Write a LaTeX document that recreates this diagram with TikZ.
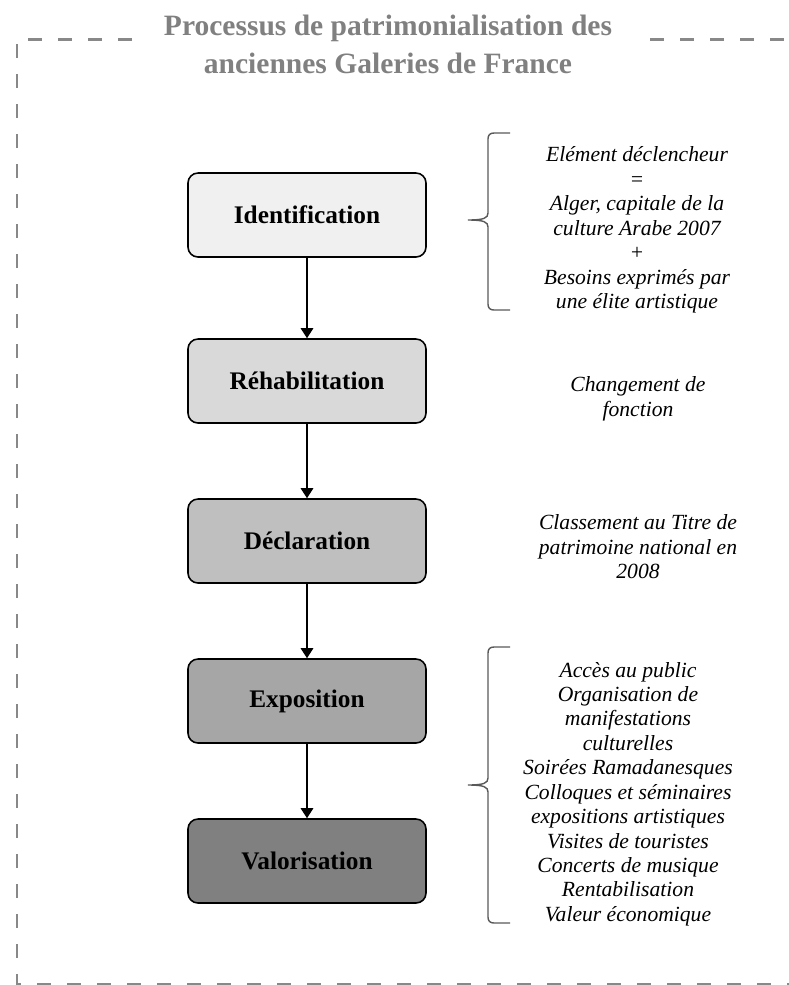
\documentclass[tikz,border=0pt]{standalone}
\usepackage{fontspec}
\setmainfont{Liberation Serif}
\usetikzlibrary{arrows.meta}
\definecolor{framegray}{RGB}{136,136,136}
\definecolor{titlegray}{RGB}{128,128,128}

\begin{document}
\begin{tikzpicture}[x=0.2mm,y=-0.2mm,
  stepbox/.style={draw=black, line width=0.9pt, rounded corners=2mm, minimum width=47.6mm, minimum height=16.8mm, font=\fontsize{14.4}{17}\selectfont\bfseries},
  note/.style={align=center, font=\fontsize{12.3}{13.9}\selectfont\itshape},
  arr/.style={-{Triangle[length=2mm,width=2.5mm]}, line width=0.75pt},
  brc/.style={draw=black!65, line width=0.8pt},
  frame/.style={framegray, line width=1.7pt, dash pattern=on 2.8mm off 3.2mm}]
\useasboundingbox (0,0) rectangle (789,985);
\draw[frame] (132,39) -- (17,39) -- (17,984) -- (800,984);
\draw[frame] (650,39) -- (800,39);
\node[align=center, text=titlegray, font=\fontsize{16.8}{21.6}\selectfont\bfseries] (title) at (388,44) {Processus de patrimonialisation des\\anciennes Galeries de France};
\node[stepbox, fill=black!6] (idn) at (307,215) {Identification};
\node[stepbox, fill=black!15] (reh) at (307,381) {Réhabilitation};
\node[stepbox, fill=black!25] (dec) at (307,541) {Déclaration};
\node[stepbox, fill=black!35] (expo) at (307,701) {Exposition};
\node[stepbox, fill=black!50] (val) at (307,861) {Valorisation};
\draw[arr] (idn) -- (reh);
\draw[arr] (reh) -- (dec);
\draw[arr] (dec) -- (expo);
\draw[arr] (expo) -- (val);
\draw[brc] (510,133) -- (494,133) .. controls (490,133) and (488,135) .. (488,139) -- (488,213) .. controls (488,218) and (484,220) .. (468,220) .. controls (484,220) and (488,222) .. (488,227) -- (488,304) .. controls (488,308) and (490,310) .. (494,310) -- (510,310);
\draw[brc] (510,647) -- (494,647) .. controls (490,647) and (488,649) .. (488,653) -- (488,778) .. controls (488,783) and (484,785) .. (468,785) .. controls (484,785) and (488,787) .. (488,792) -- (488,917) .. controls (488,921) and (490,923) .. (494,923) -- (510,923);
\node[note] (trig) at (637,230) {Elément déclencheur\\=\\Alger, capitale de la\\culture Arabe 2007\\+\\Besoins exprimés par\\une élite artistique};
\node[note] (func) at (638,399) {Changement de\\fonction};
\node[note] (clas) at (638,547) {Classement au Titre de\\patrimoine national en\\2008};
\node[note] (acts) at (628,794) {Accès au public\\Organisation de\\manifestations\\culturelles\\Soirées Ramadanesques\\Colloques et séminaires\\expositions artistiques\\Visites de touristes\\Concerts de musique\\Rentabilisation\\Valeur économique};
\end{tikzpicture}
\end{document}
